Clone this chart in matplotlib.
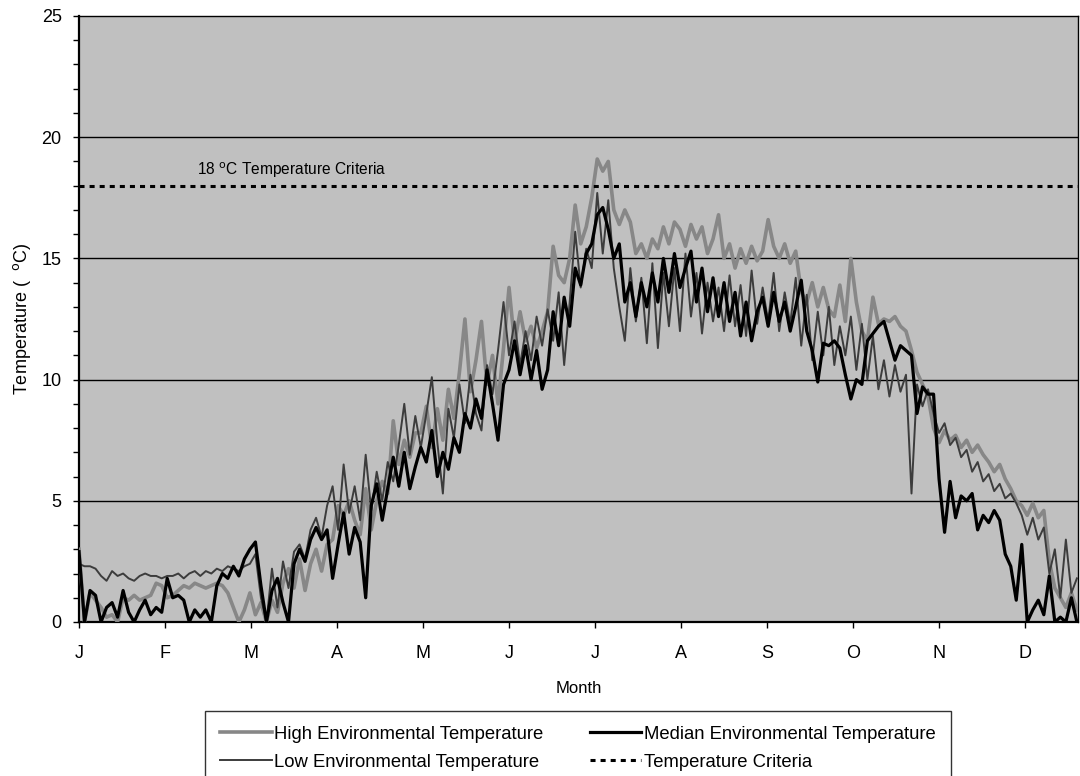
import matplotlib
matplotlib.use("Agg")
import matplotlib.pyplot as plt
import numpy as np

plt.rcParams['font.family'] = ['Liberation Sans', 'DejaVu Sans']

# x positions: day of year, sampled every 2 days (0..362)
days = list(range(0, 363, 2))

month_labels = ['J', 'F', 'M', 'A', 'M', 'J', 'J', 'A', 'S', 'O', 'N', 'D']
month_tick_step = 31.2

high_temp = [
    # Jan
    3.0, 0.0, 1.2, 0.9, 0.6, 0.2, 0.3, 0.0, 1.0, 0.9, 1.1, 0.9, 1.0, 1.1, 1.6, 1.5,
    # Feb
    1.0, 1.1, 1.3, 1.5, 1.4, 1.6, 1.5, 1.4, 1.5, 1.6, 1.5, 1.2, 0.6, 0.0, 0.5,
    # Mar
    1.2, 0.3, 0.8, 0.0, 0.9, 0.4, 1.6, 2.2, 1.4, 2.6, 1.3, 2.4, 3.0, 2.1, 3.2, 3.4,
    # Apr
    4.8, 4.4, 5.0, 4.2, 3.6, 5.5, 3.8, 5.0, 5.8, 5.3, 8.3, 6.5, 7.5, 6.8, 7.8,
    # May
    7.8, 8.9, 7.2, 8.8, 7.5, 9.6, 8.4, 10.3, 12.5, 9.5, 10.8, 12.4, 9.8, 11.0, 9.0, 11.3,
    # Jun
    13.8, 11.5, 12.8, 11.6, 12.2, 11.3, 12.0, 12.8, 15.5, 14.3, 14.0, 15.0, 17.2, 15.6, 16.3,
    # Jul
    17.5, 19.1, 18.6, 19.0, 17.0, 16.4, 17.0, 16.5, 15.2, 15.6, 15.0, 15.8, 15.4, 16.3, 15.6, 16.5,
    # Aug
    16.2, 15.5, 16.4, 15.8, 16.3, 15.2, 15.8, 16.8, 15.0, 15.6, 14.6, 15.4, 14.8, 15.5, 14.9,
    # Sep
    15.3, 16.6, 15.5, 15.0, 15.6, 14.8, 15.3, 13.6, 13.2, 14.0, 13.0, 13.8, 12.9, 12.6, 13.9, 12.4,
    # Oct
    15.0, 13.2, 12.0, 11.6, 13.4, 12.3, 12.5, 12.4, 12.6, 12.2, 12.0, 11.2, 10.3, 9.8, 9.3,
    # Nov
    8.0, 7.4, 7.9, 7.5, 7.7, 7.2, 7.5, 7.0, 7.3, 6.9, 6.6, 6.2, 6.5, 5.9, 5.5, 5.0,
    # Dec
    4.8, 4.4, 4.9, 4.3, 4.6, 2.5, 1.4, 1.0, 0.6, 1.2, 0.5,
]

low_temp = [
    # Jan
    2.4, 2.3, 2.3, 2.2, 1.9, 1.7, 2.1, 1.9, 2.0, 1.8, 1.7, 1.9, 2.0, 1.9, 1.9, 1.8,
    # Feb
    1.9, 1.9, 2.0, 1.8, 2.0, 2.1, 1.9, 2.1, 2.0, 2.2, 2.1, 2.3, 2.2, 2.1, 2.3,
    # Mar
    2.4, 2.8, 1.0, 0.0, 2.2, 0.6, 2.5, 1.4, 2.9, 3.2, 2.6, 3.8, 4.3, 3.5, 4.8, 5.6,
    # Apr
    3.8, 6.5, 4.5, 5.6, 4.2, 6.9, 4.6, 6.2, 5.0, 6.6, 5.8, 7.3, 9.0, 6.9, 8.5,
    # May
    7.2, 8.6, 10.1, 7.4, 5.3, 8.8, 7.6, 9.8, 8.2, 10.2, 8.6, 7.9, 10.6, 9.4, 11.2, 13.2,
    # Jun
    11.0, 12.4, 10.6, 12.0, 10.8, 12.6, 11.4, 12.9, 11.6, 13.6, 10.6, 13.2, 16.1, 13.8, 15.4,
    # Jul
    14.6, 17.7, 15.2, 17.4, 14.6, 13.0, 11.6, 14.6, 12.4, 14.2, 11.5, 14.8, 11.3, 14.4, 12.2, 14.6,
    # Aug
    12.0, 15.2, 12.6, 14.4, 11.9, 14.0, 12.4, 13.8, 12.0, 14.3, 12.2, 13.9, 11.8, 14.5, 12.3,
    # Sep
    13.8, 12.4, 14.4, 12.0, 13.6, 12.3, 14.2, 11.4, 13.5, 10.8, 12.8, 11.0, 13.0, 10.6, 12.2, 11.0,
    # Oct
    12.6, 10.4, 12.3, 10.0, 11.8, 9.6, 10.8, 9.3, 10.6, 9.5, 10.2, 5.3, 9.8, 8.9, 9.6,
    # Nov
    8.6, 7.8, 8.2, 7.3, 7.6, 6.8, 7.1, 6.2, 6.6, 5.8, 6.1, 5.4, 5.7, 5.1, 5.3, 4.9,
    # Dec
    4.4, 3.6, 4.3, 3.4, 3.9, 2.0, 3.0, 1.0, 3.4, 1.2, 1.8,
]

median_temp = [
    # Jan
    2.9, 0.0, 1.3, 1.1, 0.0, 0.6, 0.8, 0.2, 1.3, 0.4, 0.0, 0.5, 0.9, 0.3, 0.6, 0.4,
    # Feb
    1.8, 1.0, 1.1, 0.9, 0.0, 0.5, 0.2, 0.5, 0.0, 1.5, 2.0, 1.8, 2.3, 1.9, 2.6,
    # Mar
    3.0, 3.3, 1.5, 0.0, 1.3, 1.8, 0.8, 0.0, 2.4, 3.0, 2.5, 3.4, 3.9, 3.4, 3.8, 1.8,
    # Apr
    3.2, 4.5, 2.8, 3.9, 3.3, 1.0, 4.8, 5.7, 4.2, 5.5, 6.8, 5.6, 7.0, 5.5, 6.4,
    # May
    7.2, 6.6, 7.9, 6.0, 7.0, 6.3, 7.6, 7.0, 8.6, 8.0, 9.2, 8.4, 10.4, 9.0, 7.5, 9.8,
    # Jun
    10.4, 11.6, 10.2, 11.4, 10.0, 11.2, 9.6, 10.4, 12.8, 11.4, 13.4, 12.2, 14.6, 13.9, 15.2,
    # Jul
    15.6, 16.8, 17.1, 16.2, 15.0, 15.6, 13.2, 14.0, 12.6, 14.0, 13.0, 14.4, 13.2, 15.0, 13.6, 15.2,
    # Aug
    13.8, 14.6, 15.3, 13.2, 14.6, 12.8, 14.2, 12.6, 14.0, 12.4, 13.6, 11.8, 13.2, 11.6, 12.8,
    # Sep
    13.4, 12.2, 13.6, 12.4, 13.2, 12.0, 13.0, 14.1, 12.0, 11.2, 9.9, 11.5, 11.4, 11.6, 11.3, 10.2,
    # Oct
    9.2, 10.0, 9.8, 11.6, 11.9, 12.2, 12.4, 11.6, 10.8, 11.4, 11.2, 11.0, 8.6, 9.7, 9.4,
    # Nov
    9.4, 5.9, 3.7, 5.8, 4.3, 5.2, 5.0, 5.3, 3.8, 4.4, 4.1, 4.6, 4.2, 2.8, 2.3, 0.9,
    # Dec
    3.2, 0.0, 0.5, 0.9, 0.3, 1.9, 0.0, 0.2, 0.0, 1.0, 0.0,
]

criteria = 18.0
criteria_label = r'18 $^{\mathrm{o}}$C Temperature Criteria'

fig = plt.figure(figsize=(10.8, 7.76), dpi=100)
ax = fig.add_axes([79/1080, 1 - 622/776, (1078 - 79)/1080, (622 - 16)/776])
ax.set_facecolor('#c0c0c0')

ax.plot(days, high_temp, color='#878787', lw=2.6, label='High Environmental Temperature', zorder=3)
ax.plot(days, low_temp, color='#3c3c3c', lw=1.4, label='Low Environmental Temperature', zorder=4)
ax.plot(days, median_temp, color='#000000', lw=2.3, label='Median Environmental Temperature', zorder=5)
ax.axhline(criteria, color='black', lw=2.2, linestyle=(0, (1.65, 1.65)),
           label='Temperature Criteria', zorder=6)

ax.text(42.8, 18.65, criteria_label, fontsize=11.2, va='center', ha='left')

ax.set_xlim(0, 362.4)
ax.set_ylim(0, 25)
ax.set_yticks([0, 5, 10, 15, 20, 25])
ax.set_yticks(np.arange(0, 26, 1), minor=True)
ax.set_xticks([i * month_tick_step for i in range(12)])
ax.set_xticklabels(month_labels)
for yv in [5, 10, 15, 20]:
    ax.axhline(yv, color='black', lw=1.0, zorder=1)

ax.tick_params(axis='both', which='major', direction='out', length=4.5, width=1,
               labelsize=13, color='black')
ax.tick_params(axis='y', which='minor', direction='out', length=4.5, width=1, color='black')
ax.tick_params(axis='x', which='major', pad=12)
ax.tick_params(axis='y', which='major', pad=8)
for s in ax.spines.values():
    s.set_color('black')
    s.set_linewidth(1.0)
ax.spines['left'].set_linewidth(1.6)
ax.spines['bottom'].set_linewidth(1.6)

ax.set_xlabel('Month', fontsize=12, labelpad=14)
ax.set_ylabel(r'Temperature (  $^{\mathrm{o}}$C)', fontsize=13, labelpad=6)

h, l = ax.get_legend_handles_labels()
order = [0, 1, 2, 3]
leg = fig.legend([h[i] for i in order], [l[i] for i in order], ncol=2,
                 loc='upper left', bbox_to_anchor=(205/1080, 1 - 711/776),
                 borderaxespad=0.0,
                 fontsize=13.3, frameon=True, fancybox=False, edgecolor='black',
                 handlelength=2.8, handletextpad=0.15, columnspacing=2.5,
                 labelspacing=0.6, borderpad=0.8)
leg.get_frame().set_linewidth(1.0)

fig.savefig('out.png', dpi=100, facecolor='white')
